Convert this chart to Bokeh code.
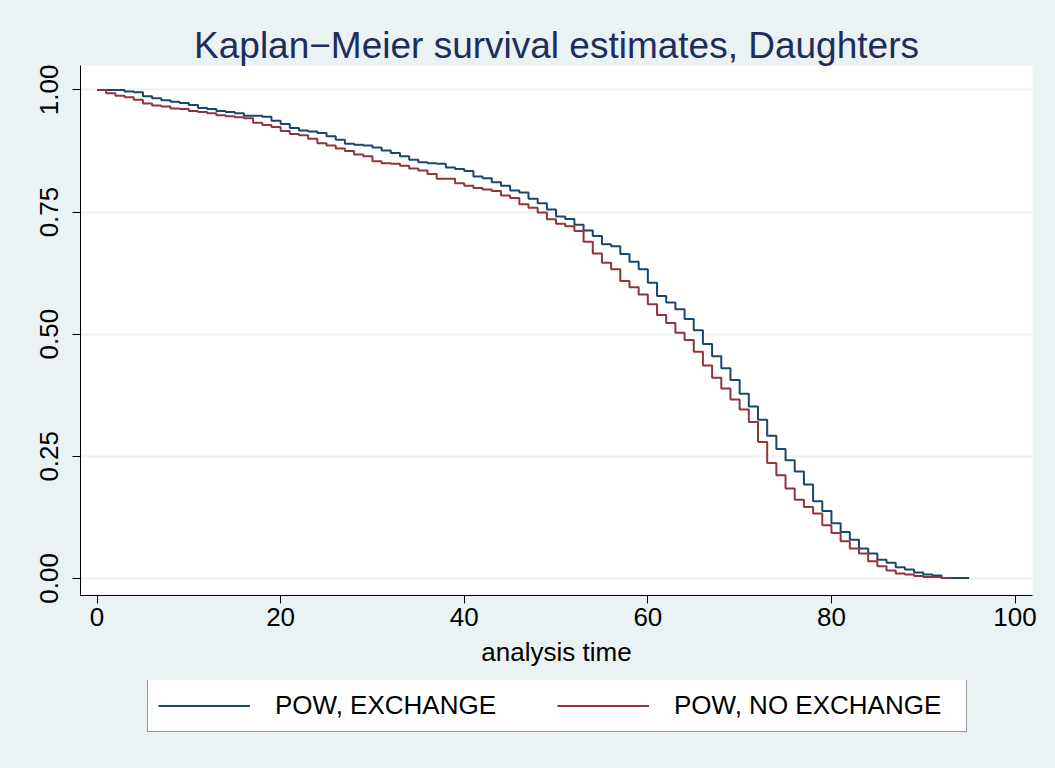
from bokeh.plotting import figure
from bokeh.layouts import column
from bokeh.models import Range1d, FixedTicker, Legend, LegendItem
from bokeh.embed import file_html
from bokeh.resources import INLINE

# analysis time (years) and Kaplan-Meier survival estimates
time_exchange = list(range(0, 96))
surv_exchange = [
    1.000, 1.000, 1.000, 0.997, 0.995, 0.987, 0.983, 0.979, 0.976, 0.973,
    0.969, 0.963, 0.961, 0.957, 0.955, 0.952, 0.947, 0.947, 0.945, 0.937,
    0.930, 0.922, 0.917, 0.915, 0.912, 0.905, 0.898, 0.890, 0.888, 0.886,
    0.882, 0.876, 0.871, 0.864, 0.857, 0.852, 0.850, 0.849, 0.841, 0.838,
    0.834, 0.823, 0.819, 0.811, 0.804, 0.794, 0.790, 0.777, 0.768, 0.755,
    0.741, 0.736, 0.724, 0.712, 0.701, 0.684, 0.680, 0.664, 0.648, 0.633,
    0.605, 0.578, 0.565, 0.551, 0.531, 0.508, 0.480, 0.455, 0.430, 0.406,
    0.378, 0.352, 0.325, 0.292, 0.265, 0.242, 0.219, 0.192, 0.158, 0.138,
    0.113, 0.095, 0.079, 0.061, 0.051, 0.038, 0.032, 0.023, 0.018, 0.012,
    0.008, 0.006, 0.001, 0.001, 0.001, 0.001,
]
time_no_exchange = list(range(0, 94))
surv_no_exchange = [
    1.000, 0.993, 0.988, 0.985, 0.980, 0.972, 0.968, 0.966, 0.962, 0.961,
    0.957, 0.955, 0.952, 0.948, 0.946, 0.944, 0.942, 0.933, 0.928, 0.924,
    0.916, 0.910, 0.907, 0.900, 0.891, 0.886, 0.880, 0.875, 0.868, 0.864,
    0.854, 0.850, 0.849, 0.845, 0.839, 0.835, 0.828, 0.818, 0.818, 0.809,
    0.804, 0.799, 0.796, 0.793, 0.784, 0.779, 0.766, 0.759, 0.749, 0.735,
    0.726, 0.721, 0.711, 0.689, 0.665, 0.646, 0.633, 0.609, 0.596, 0.581,
    0.561, 0.539, 0.523, 0.503, 0.488, 0.464, 0.436, 0.411, 0.389, 0.366,
    0.346, 0.320, 0.279, 0.236, 0.211, 0.184, 0.161, 0.146, 0.133, 0.109,
    0.093, 0.076, 0.061, 0.051, 0.035, 0.025, 0.016, 0.010, 0.008, 0.005,
    0.003, 0.003, 0.001, 0.001,
]

series_labels = ["POW, EXCHANGE", "POW, NO EXCHANGE"]
series_colors = ["#1A476F", "#90353B"]
x_ticks = [0, 20, 40, 60, 80, 100]
y_ticks = [0.0, 0.25, 0.5, 0.75, 1.0]
y_tick_labels = ["0.00", "0.25", "0.50", "0.75", "1.00"]

BG = "#EAF2F3"
FONT = "Liberation Sans"

p = figure(width=1055, height=680, output_backend="svg", toolbar_location=None,
           x_range=Range1d(-1.8, 101.9), y_range=Range1d(-0.035, 1.050),
           min_border_left=80, min_border_right=23, min_border_top=65,
           min_border_bottom=85)
p.background_fill_color = "white"
p.border_fill_color = BG
p.outline_line_color = None

p.title.text = "Kaplan\u2212Meier survival estimates, Daughters"
p.title.align = "center"
p.title.text_font = FONT
p.title.text_font_size = "37px"
p.title.text_font_style = "normal"
p.title.text_color = "#1E2D5A"
p.title.standoff = 0

# grid
p.xgrid.visible = False
p.ygrid.ticker = FixedTicker(ticks=y_ticks)
p.ygrid.grid_line_color = BG
p.ygrid.grid_line_width = 2

# axes
for ax in (p.xaxis[0], p.yaxis[0]):
    ax.axis_line_color = "black"
    ax.major_tick_line_color = "black"
    ax.minor_tick_line_color = None
    ax.major_tick_out = 8
    ax.major_tick_in = 0
    ax.major_label_text_font = FONT
    ax.major_label_text_font_size = "26px"
    ax.major_label_text_color = "black"
    ax.axis_label_text_font = FONT
    ax.axis_label_text_font_size = "26px"
    ax.axis_label_text_font_style = "normal"
    ax.axis_label_text_color = "black"

p.xaxis.ticker = FixedTicker(ticks=x_ticks)
p.xaxis.axis_label = "analysis time"
p.xaxis.major_label_standoff = 4
p.xaxis.axis_label_standoff = 8

p.yaxis.ticker = FixedTicker(ticks=y_ticks)
p.yaxis.major_label_overrides = {t: l for t, l in zip(y_ticks, y_tick_labels)}
p.yaxis.major_label_orientation = "parallel"
p.yaxis.major_label_standoff = 14

r1 = p.step(time_exchange, surv_exchange, mode="after",
            line_color=series_colors[0], line_width=2)
r2 = p.step(time_no_exchange, surv_no_exchange, mode="after",
            line_color=series_colors[1], line_width=2)

# legend strip below the chart (its view range is set away from the data,
# so only the legend itself shows)
lg = figure(width=1055, height=88, output_backend="svg", toolbar_location=None,
            x_range=Range1d(200, 201), y_range=Range1d(200, 201),
            x_axis_location=None, y_axis_location=None,
            min_border_left=80, min_border_right=23, min_border_top=0,
            min_border_bottom=0)
lg.background_fill_color = None
lg.border_fill_color = BG
lg.outline_line_color = None
lg.xgrid.visible = False
lg.ygrid.visible = False
d1 = lg.step(time_exchange, surv_exchange, mode="after",
             line_color=series_colors[0], line_width=2)
d2 = lg.step(time_no_exchange, surv_no_exchange, mode="after",
             line_color=series_colors[1], line_width=2)

legend = Legend(items=[LegendItem(label=series_labels[0], renderers=[d1]),
                       LegendItem(label=series_labels[1], renderers=[d2])],
                orientation="horizontal", location=(67, 36))
legend.label_text_font = FONT
legend.label_text_font_size = "26px"
legend.label_text_color = "black"
legend.glyph_width = 92
legend.glyph_height = 27
legend.label_height = 27
legend.label_standoff = 25
legend.label_width = 282
legend.spacing = 0
legend.padding = 10
legend.margin = 0
legend.border_line_color = "#333333"
legend.border_line_width = 1
legend.background_fill_color = "white"
legend.background_fill_alpha = 1.0
lg.add_layout(legend)

layout = column(p, lg, spacing=0, styles={"background-color": BG})
open("out.html", "w").write(file_html(layout, INLINE))
